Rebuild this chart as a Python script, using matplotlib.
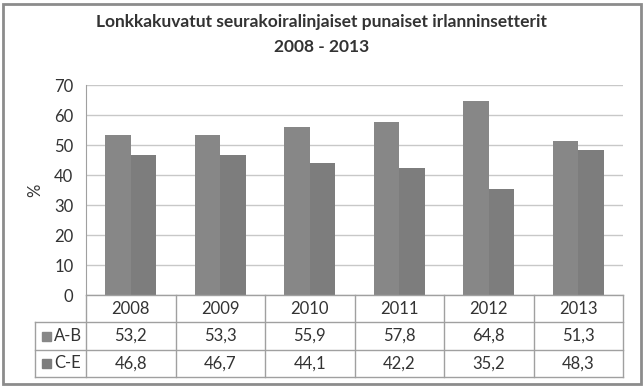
import matplotlib
matplotlib.use("Agg")
import matplotlib.pyplot as plt
from matplotlib.patches import Rectangle
import numpy as np

years = ["2008", "2009", "2010", "2011", "2012", "2013"]
ab = [53.2, 53.3, 55.9, 57.8, 64.8, 51.3]
ce = [46.8, 46.7, 44.1, 42.2, 35.2, 48.3]
series_names = ["A-B", "C-E"]
yticks = [0, 10, 20, 30, 40, 50, 60, 70]

plt.rcParams['font.family'] = ['Lato', 'DejaVu Sans']

W, H = 644, 387
fig = plt.figure(figsize=(W / 100, H / 100), dpi=100)
fig.patch.set_facecolor("white")

# outer frame
fig.patches.append(Rectangle((3 / W, 3 / H), 638 / W, 380 / H, transform=fig.transFigure,
                             fill=False, edgecolor="#8c8c8c", linewidth=2))

x0, x1, y0, y1 = 86, 623, 295, 85
ax = fig.add_axes([x0 / W, (H - y0) / H, (x1 - x0) / W, (y0 - y1) / H])

c_ab = "#878787"
c_ce = "#7d7d7d"
x = np.arange(len(years))
w = 0.286
ax.bar(x - w / 2, ab, w, color=c_ab)
ax.bar(x + w / 2, ce, w, color=c_ce)

ax.set_xlim(-0.5, len(years) - 0.5)
ax.set_ylim(0, 70)
ax.set_yticks(yticks)
ax.set_xticks([])
ax.yaxis.grid(True, color="#c8c8c8", linewidth=1)
ax.set_axisbelow(True)
ax.tick_params(axis="y", length=0, labelsize=12, colors="#333333", pad=9)
for s in ["top", "right", "bottom"]:
    ax.spines[s].set_visible(False)
ax.spines["left"].set_color("#a0a0a0")
ax.set_ylabel("%", fontsize=12, color="#333333", labelpad=8)

fig.text(0.5, 1 - 22 / H, "Lonkkakuvatut seurakoiralinjaiset punaiset irlanninsetterit",
         ha="center", va="center", fontsize=12.5, fontweight="bold", color="#333333")
fig.text(0.5, 1 - 47 / H, "2008 - 2013",
         ha="center", va="center", fontsize=12.5, fontweight="bold", color="#333333")

# data table
tr = ax.transAxes
ph = y0 - y1
rows_px = [295, 322, 350, 377]
rows = [(y0 - r) / ph for r in rows_px]
left = (35 - x0) / (x1 - x0)
lc = "#a0a0a0"
n = len(years)
kw = dict(transform=tr, clip_on=False, color=lc, linewidth=1)
ax.plot([0, 1], [rows[0]] * 2, **kw)
for r in rows[1:]:
    ax.plot([left, 1], [r] * 2, **kw)
for i in range(n + 1):
    ax.plot([i / n] * 2, [rows[0], rows[3]], **kw)
ax.plot([left] * 2, [rows[1], rows[3]], **kw)

tkw = dict(transform=tr, ha="center", va="center", fontsize=12, color="#333333")
for i, yr in enumerate(years):
    xc = (i + 0.5) / n
    ax.text(xc, (rows[0] + rows[1]) / 2, yr, **tkw)
    ax.text(xc, (rows[1] + rows[2]) / 2, f"{ab[i]:.1f}".replace(".", ","), **tkw)
    ax.text(xc, (rows[2] + rows[3]) / 2, f"{ce[i]:.1f}".replace(".", ","), **tkw)

sq = 9 / (x1 - x0)
sqh = 9 / ph
for k, (name, col) in enumerate(zip(series_names, [c_ab, c_ce])):
    yc = (rows[k + 1] + rows[k + 2]) / 2
    ax.add_patch(Rectangle((left + 7 / (x1 - x0), yc - sqh / 2), sq, sqh, transform=tr,
                           clip_on=False, color=col))
    ax.text(left + 19 / (x1 - x0), yc, name, transform=tr, ha="left", va="center",
            fontsize=12, color="#333333")

fig.savefig("out.png", dpi=100, facecolor="white")
